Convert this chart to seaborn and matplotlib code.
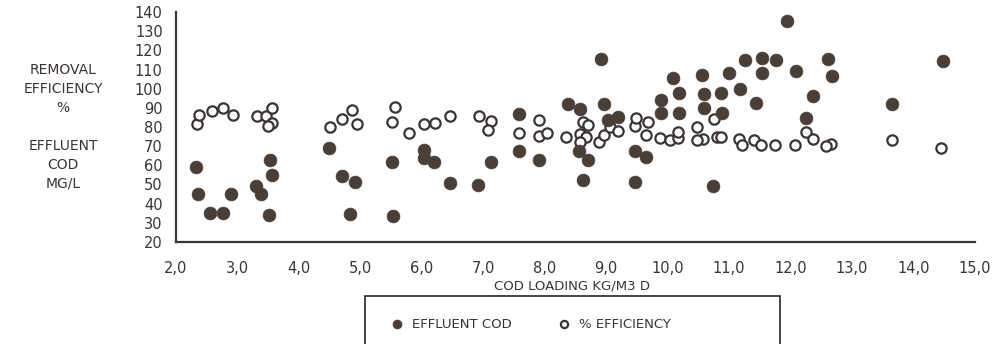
"""COD loading vs effluent COD and removal efficiency (scatter)."""

import matplotlib
matplotlib.use("Agg")
import matplotlib.pyplot as plt
from matplotlib.patches import Rectangle
import numpy as np
import seaborn as sns

# effluent COD (mg/l), filled markers
load_cod = [2.33, 2.35, 2.55, 2.76, 2.89, 3.30, 3.38, 3.53, 3.57, 3.52,
            4.49, 4.70, 4.92, 4.83, 5.52, 5.53, 6.03, 6.03, 6.20, 6.45,
            6.92, 7.13, 7.58, 7.58, 7.91, 8.38, 8.58, 8.56, 8.70, 8.62,
            8.91, 8.96, 9.19, 9.03, 9.46, 9.65, 9.46, 9.89, 9.89, 10.08,
            10.18, 10.18, 10.56, 10.59, 10.59, 10.74, 10.87, 10.89, 10.99, 11.17,
            11.25, 11.43, 11.54, 11.54, 11.76, 11.94, 12.09, 12.36, 12.25, 12.61,
            12.68, 13.65, 14.48]
effluent_cod = [59, 45, 35, 35, 45, 49, 45, 63, 55, 34,
                69, 54.5, 51.5, 34.5, 62, 33.5, 68, 64, 62, 51,
                50, 61.5, 87, 67.5, 63, 92, 89.5, 67.5, 63, 52.5,
                115.5, 92, 85, 83.5, 67.5, 64.5, 51.5, 94, 87.5, 105.5,
                98, 87.5, 107, 97, 90, 49, 98, 87.5, 108, 100,
                115, 92.5, 116, 108, 115, 135.5, 109, 96, 84.5, 115.5,
                106.5, 92, 114.5]

# removal efficiency (%), open markers
load_eff = [2.34, 2.37, 2.58, 2.77, 2.92, 3.32, 3.47, 3.56, 3.57, 3.50,
            4.50, 4.70, 4.87, 4.95, 5.57, 5.51, 5.79, 6.03, 6.21, 6.45,
            6.93, 7.13, 7.08, 7.58, 7.91, 7.91, 8.03, 8.35, 8.57, 8.62,
            8.70, 8.67, 8.57, 8.88, 8.96, 9.06, 9.19, 9.46, 9.49, 9.68,
            9.65, 9.87, 10.03, 10.17, 10.17, 10.47, 10.57, 10.47, 10.76, 10.81,
            10.87, 11.16, 11.21, 11.41, 11.52, 11.74, 12.07, 12.25, 12.36, 12.66,
            12.57, 13.65, 14.45]
efficiency = [81.5, 86.5, 88.5, 90, 86.5, 86, 86, 90, 82, 80.5,
              80, 84, 89, 81.5, 90.5, 82.5, 77, 81.5, 82, 85.5,
              85.5, 83, 78.5, 77, 83.5, 75.5, 77, 75, 76.5, 82.5,
              81, 75, 72, 72, 76, 80, 78, 80.5, 84.5, 82.5,
              76, 74.5, 73, 74.5, 77.5, 80, 74, 73, 84, 75,
              75, 74, 70.5, 73, 70.5, 70.5, 70.5, 77.5, 73.5, 71,
              70, 73, 69]

x_ticks = list(range(2, 16))
x_tick_labels = ["2,0", "3,0", "4,0", "5,0", "6,0", "7,0", "8,0", "9,0",
                 "10,0", "11,0", "12,0", "13,0", "14,0", "15,0"]
y_ticks = list(range(20, 150, 10))

INK = "#3a3533"
FILL = "#4a3f37"

sns.set_theme(style="white")
plt.rcParams["font.family"] = ["DejaVu Sans"]
plt.rcParams["text.color"] = INK

fig = plt.figure(figsize=(9.96, 3.44), dpi=100)
ax = fig.add_axes([176 / 996, 1 - 242 / 344, 799 / 996, 230 / 344])

sns.scatterplot(x=load_eff, y=efficiency, ax=ax, s=55, color="white",
                edgecolor=INK, linewidth=1.6, label="% EFFICIENCY", zorder=3)
sns.scatterplot(x=load_cod, y=effluent_cod, ax=ax, s=85, color=FILL,
                edgecolor=FILL, linewidth=0.5, label="EFFLUENT COD", zorder=4)

ax.set_xlim(2, 15); ax.set_ylim(20, 140)
ax.set_xticks(x_ticks); ax.set_xticklabels(x_tick_labels)
ax.set_yticks(y_ticks)
ax.tick_params(axis="both", direction="inout", length=7, width=1.3, color=INK,
               labelcolor=INK, labelsize=10.5)
ax.tick_params(axis="x", pad=10)
ax.tick_params(axis="y", pad=6)
sns.despine(ax=ax)
for s in ["left", "bottom"]:
    ax.spines[s].set_color(INK); ax.spines[s].set_linewidth(1.6)

ax.set_xlabel("COD LOADING KG/M3 D", fontsize=9.5, color=INK)
ax.xaxis.set_label_coords(0.495, -0.165)
ax.set_ylabel("REMOVAL\nEFFICIENCY\n%\n\nEFFLUENT\nCOD\nMG/L", rotation=0,
              fontsize=10, color=INK, linespacing=1.45, ha="center", va="center")
ax.yaxis.set_label_coords(-0.1414, 0.5)

handles, labels = ax.get_legend_handles_labels()
ax.get_legend().remove()
order = [1, 0]
fig.legend([handles[i] for i in order], [labels[i] for i in order], frameon=False,
           ncol=2, loc="center left", bbox_to_anchor=(380 / 996, 1 - 324 / 344),
           fontsize=9.5, markerscale=0.7, handlelength=0.8, handletextpad=0.7,
           columnspacing=3.6)
fig.add_artist(Rectangle((365 / 996, -0.05), 415 / 996, 1 - 296 / 344 + 0.05,
                         transform=fig.transFigure, fill=False, edgecolor=INK,
                         linewidth=1.3, clip_on=False))

fig.savefig("out.png", dpi=100)
plt.close(fig)
